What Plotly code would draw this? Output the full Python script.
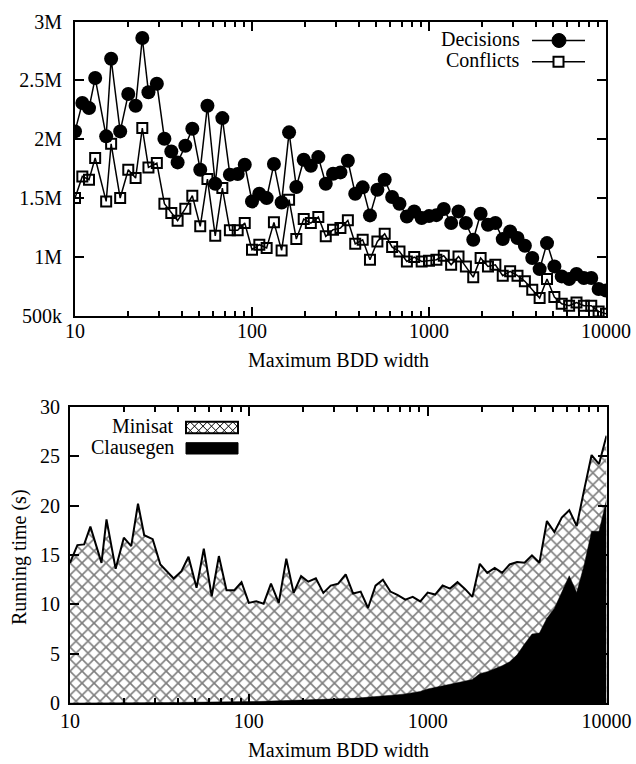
import plotly.graph_objects as go

# ---------------- data ----------------
widths = [10, 11, 12, 13, 15, 16, 18, 20, 22, 24, 26, 29, 32, 35, 38, 42, 46, 51, 56, 62, 68, 75, 83, 91,
          100, 110, 121, 133, 147, 162, 178, 196, 215, 237, 261, 287, 316, 348, 383, 422, 464, 511, 562, 619,
          681, 750, 825, 909,
          1000, 1101, 1212, 1334, 1468, 1616, 1778, 1957, 2154, 2371, 2610, 2873, 3162, 3481, 3831, 4217,
          4642, 5109, 5623, 6190, 6813, 7499, 8254, 9085, 10000]

# millions
decisions = [2.067, 2.308, 2.265, 2.52, 2.025, 2.684, 2.067, 2.384, 2.285, 2.86, 2.40, 2.472, 2.005, 1.897,
             1.804, 1.945, 2.09, 1.742, 2.285, 1.623, 2.18, 1.70, 1.705, 1.784,
             1.473, 1.538, 1.501, 1.79, 1.464, 2.059, 1.595, 1.827, 1.776, 1.849, 1.623, 1.708, 1.719, 1.818,
             1.538, 1.592, 1.354, 1.572, 1.657, 1.51, 1.453, 1.345, 1.388, 1.332,
             1.348, 1.356, 1.408, 1.289, 1.388, 1.289, 1.147, 1.368, 1.275, 1.289, 1.153, 1.218, 1.162, 1.096,
             0.992, 0.898, 1.119, 0.921, 0.836, 0.814, 0.856, 0.822, 0.822, 0.729, 0.717]

conflicts = [1.501, 1.685, 1.657, 1.841, 1.473, 1.962, 1.501, 1.742, 1.671, 2.095, 1.761, 1.798, 1.453, 1.374,
             1.309, 1.411, 1.521, 1.261, 1.662, 1.181, 1.586, 1.227, 1.227, 1.289,
             1.063, 1.105, 1.077, 1.295, 1.057, 1.487, 1.153, 1.323, 1.289, 1.34, 1.176, 1.232, 1.246, 1.312,
             1.113, 1.147, 0.978, 1.133, 1.198, 1.085, 1.048, 0.963, 1.0, 0.963,
             0.969, 0.978, 1.012, 0.935, 1.006, 0.921, 0.83, 0.992, 0.921, 0.935, 0.842, 0.879, 0.842, 0.794,
             0.723, 0.652, 0.814, 0.661, 0.604, 0.587, 0.615, 0.587, 0.587, 0.539, 0.519]

# seconds (top of the hatched area = total running time)
total_time = [14.2, 16.0, 16.07, 17.87, 14.2, 18.6, 13.6, 16.75, 15.9, 20.2, 17.0, 16.6, 14.04, 13.27,
              12.62, 13.37, 14.82, 11.68, 15.63, 10.83, 14.89, 11.44, 11.44, 12.25,
              10.15, 10.32, 10.08, 12.11, 10.15, 14.62, 11.17, 12.86, 12.3, 12.65, 11.17, 11.9, 12.1, 13.05,
              11.1, 11.3, 9.64, 11.9, 12.5, 11.3, 10.95, 10.49, 10.76, 10.3,
              11.2, 11.0, 11.91, 11.6, 12.25, 11.57, 10.76, 14.11, 13.2, 13.7, 13.2, 14.04, 14.28, 14.21,
              14.96, 14.21, 18.44, 17.33, 18.78, 19.53, 17.94, 21.59, 25.11, 24.2, 27.07]

clausegen_time = [0.02, 0.02, 0.03, 0.03, 0.03, 0.04, 0.04, 0.05, 0.05, 0.06, 0.06, 0.07, 0.07, 0.08,
                  0.08, 0.09, 0.1, 0.1, 0.11, 0.12, 0.13, 0.14, 0.15, 0.16,
                  0.17, 0.18, 0.2, 0.21, 0.23, 0.25, 0.27, 0.29, 0.31, 0.34, 0.37, 0.4, 0.43, 0.47,
                  0.5, 0.55, 0.6, 0.66, 0.72, 0.8, 0.87, 0.95, 1.05, 1.2,
                  1.45, 1.6, 1.8, 1.95, 2.05, 2.2, 2.4, 3.0, 3.2, 3.5, 3.8, 4.2, 4.9, 6.0,
                  7.0, 7.1, 8.6, 9.6, 11.2, 12.9, 11.2, 14.0, 17.4, 17.4, 20.6]

x_ticks = [10, 100, 1000, 10000]
x_ticktext = ["10", "100", "1000", "10000"]
x_minor = [m * d for d in (10, 100, 1000) for m in range(2, 10)]
top_yticks = [0.5, 1, 1.5, 2, 2.5, 3]
top_yticktext = ["500k", "1M", "1.5M", "2M", "2.5M", "3M"]
bot_yticks = [0, 5, 10, 15, 20, 25, 30]

# ---------------- figure ----------------
W, H = 636, 764
FONT = "Liberation Serif"
FS = 20


def px(x):
    return x / W


def py(y):
    return 1 - y / H


fig = go.Figure()

fig.add_trace(go.Scatter(
    x=widths, y=decisions, name="Decisions", mode="lines+markers",
    line=dict(color="black", width=1.5),
    marker=dict(symbol="circle", size=14, color="black"),
    xaxis="x", yaxis="y", showlegend=False))
fig.add_trace(go.Scatter(
    x=widths, y=conflicts, name="Conflicts", mode="lines+markers",
    line=dict(color="black", width=1.5),
    marker=dict(symbol="square-open", size=10, color="black", line=dict(width=2)),
    xaxis="x", yaxis="y", showlegend=False))

fig.add_trace(go.Scatter(
    x=widths, y=total_time, name="Minisat", mode="lines", fill="tozeroy",
    fillcolor="white",
    fillpattern=dict(shape="x", fgcolor="black", bgcolor="white", size=8.5, solidity=0.35),
    line=dict(color="black", width=2),
    xaxis="x2", yaxis="y2", showlegend=False))
fig.add_trace(go.Scatter(
    x=widths, y=clausegen_time, name="Clausegen", mode="lines", fill="tozeroy",
    fillcolor="black", line=dict(color="black", width=0.5),
    xaxis="x2", yaxis="y2", showlegend=False))

tickfont = dict(family=FONT, size=FS, color="black")


def xaxis_cfg(domain, anchor, standoff):
    return dict(
        type="log", range=[1, 4], domain=domain, anchor=anchor,
        tickmode="array", tickvals=x_ticks, ticktext=x_ticktext,
        ticks="inside", ticklen=9, tickwidth=1.5, tickcolor="black",
        showline=True, linecolor="black", linewidth=2, mirror="allticks",
        showgrid=False, zeroline=False, tickfont=tickfont,
        ticklabelstandoff=standoff, ticklabeloverflow="allow", automargin=False,
        minor=dict(tickmode="array", tickvals=x_minor, ticks="inside", ticklen=5,
                   tickwidth=1.5, tickcolor="black", showgrid=False),
    )


def yaxis_cfg(domain, anchor, rng, tv, tt, standoff):
    return dict(
        range=rng, domain=domain, anchor=anchor,
        tickmode="array", tickvals=tv, ticktext=tt,
        ticks="inside", ticklen=9, tickwidth=1.5, tickcolor="black",
        showline=True, linecolor="black", linewidth=2, mirror="allticks",
        showgrid=False, zeroline=False, tickfont=tickfont,
        ticklabelstandoff=standoff, ticklabeloverflow="allow", automargin=False,
    )


fig.update_layout(
    width=W, height=H, autosize=False,
    margin=dict(l=0, r=0, t=0, b=0, pad=0),
    paper_bgcolor="white", plot_bgcolor="white",
    font=dict(family=FONT, size=FS, color="black"),
    xaxis=xaxis_cfg([px(75), px(606)], "y", -4),
    yaxis=yaxis_cfg([py(316), py(21.5)], "x", [0.5, 3], top_yticks, top_yticktext, 7),
    xaxis2=xaxis_cfg([px(70), px(606.5)], "y2", -1),
    yaxis2=yaxis_cfg([py(703.3), py(406.7)], "x2", [0, 30], bot_yticks,
                     [str(v) for v in bot_yticks], 4),
)

annotations = [
    dict(text="Maximum BDD width", x=px(338), y=py(360), xref="paper", yref="paper",
         showarrow=False, xanchor="center", yanchor="middle", font=dict(family=FONT, size=FS)),
    dict(text="Maximum BDD width", x=px(338), y=py(750), xref="paper", yref="paper",
         showarrow=False, xanchor="center", yanchor="middle", font=dict(family=FONT, size=FS)),
    dict(text="Running time (s)", x=px(19), y=py(557), xref="paper", yref="paper",
         showarrow=False, xanchor="center", yanchor="middle", textangle=-90,
         font=dict(family=FONT, size=FS)),
    # legend texts
    dict(text="Decisions", x=px(522), y=py(39), xref="paper", yref="paper",
         showarrow=False, xanchor="right", yanchor="middle", font=dict(family=FONT, size=FS)),
    dict(text="Conflicts", x=px(522), y=py(60), xref="paper", yref="paper",
         showarrow=False, xanchor="right", yanchor="middle", font=dict(family=FONT, size=FS)),
    dict(text="Minisat", x=px(176), y=py(426), xref="paper", yref="paper",
         showarrow=False, xanchor="right", yanchor="middle", font=dict(family=FONT, size=FS)),
    dict(text="Clausegen", x=px(176), y=py(447), xref="paper", yref="paper",
         showarrow=False, xanchor="right", yanchor="middle", font=dict(family=FONT, size=FS)),
]

shapes = []
# legend keys, top chart
for yy in (40.5, 61.7):
    shapes.append(dict(type="line", xref="paper", yref="paper",
                       x0=px(532), x1=px(585), y0=py(yy), y1=py(yy),
                       line=dict(color="black", width=1.5)))
shapes.append(dict(type="circle", xref="paper", yref="paper",
                   x0=px(559 - 7), x1=px(559 + 7), y0=py(40.5 + 7), y1=py(40.5 - 7),
                   fillcolor="black", line=dict(color="black", width=1)))
shapes.append(dict(type="rect", xref="paper", yref="paper",
                   x0=px(558.5 - 5), x1=px(558.5 + 5), y0=py(61.7 + 5), y1=py(61.7 - 5),
                   fillcolor="white", line=dict(color="black", width=2)))

# legend keys, bottom chart
bx0, bx1 = 186, 238
m_y0, m_y1 = 421.7, 433.3
c_y0, c_y1 = 442.7, 454.0
shapes.append(dict(type="rect", xref="paper", yref="paper",
                   x0=px(bx0), x1=px(bx1), y0=py(c_y1), y1=py(c_y0),
                   fillcolor="black", line=dict(color="black", width=1)))
# cross-hatch inside the Minisat key
step = 8.5
hatch = []
bw, bh = bx1 - bx0, m_y1 - m_y0
cc = -bw - 20
while cc < bh + bw + 20:
    # (y - m_y0) = (x - bx0) + cc
    xa = max(bx0, bx0 - cc)
    xb = min(bx1, bx0 + bh - cc)
    if xb > xa:
        hatch.append((xa, m_y0 + (xa - bx0) + cc, xb, m_y0 + (xb - bx0) + cc))
    # (y - m_y0) = -(x - bx0) + cc
    xa2 = max(bx0, bx0 + cc - bh)
    xb2 = min(bx1, bx0 + cc)
    if xb2 > xa2:
        hatch.append((xa2, m_y0 - (xa2 - bx0) + cc, xb2, m_y0 - (xb2 - bx0) + cc))
    cc += step
for (xa, ya, xb, yb) in hatch:
    shapes.append(dict(type="line", xref="paper", yref="paper",
                       x0=px(xa), y0=py(ya), x1=px(xb), y1=py(yb),
                       line=dict(color="black", width=1)))
shapes.append(dict(type="rect", xref="paper", yref="paper",
                   x0=px(bx0), x1=px(bx1), y0=py(m_y1), y1=py(m_y0),
                   fillcolor="rgba(0,0,0,0)", line=dict(color="black", width=2)))

fig.update_layout(annotations=annotations, shapes=shapes)

fig.write_html(
    "out.html",
    config={"displayModeBar": False},
    post_script="document.body.style.margin='0';document.body.style.overflow='hidden';",
)
